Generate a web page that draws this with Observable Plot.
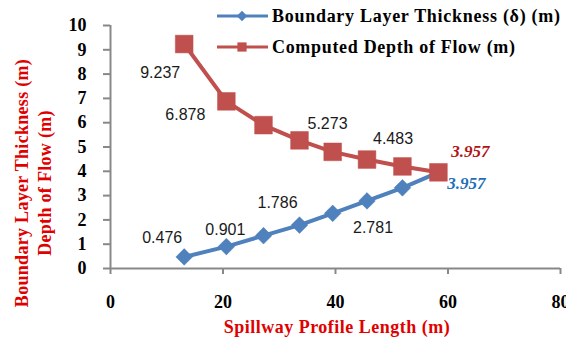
<!DOCTYPE html>
<html>
<head>
<meta charset="utf-8">
<script src="https://cdn.jsdelivr.net/npm/d3@7"></script>
<script src="https://cdn.jsdelivr.net/npm/@observablehq/plot@0.6"></script>
<style>
  html, body { margin: 0; padding: 0; overflow: hidden; background: #fff; }
  #chart { width: 566px; height: 340px; overflow: hidden; }
  #chart svg { display: block; }
</style>
</head>
<body>
<div id="chart"></div>
<script>
// ---- data ----
const lengths = [13.1, 20.6, 27.2, 33.6, 39.5, 45.6, 51.9, 58.3];
const boundaryThickness = [0.476, 0.901, 1.35, 1.786, 2.27, 2.781, 3.32, 3.957];
const flowDepth = [9.237, 6.878, 5.9, 5.273, 4.8, 4.483, 4.2, 3.957];
const labelledPoints = [0, 1, 3, 5, 7];
const xTicks = [0, 20, 40, 60, 80];
const yTicks = [0, 1, 2, 3, 4, 5, 6, 7, 8, 9, 10];
const seriesNames = ["Boundary Layer Thickness (\u03b4) (m)", "Computed Depth of Flow (m)"];
const xTitle = "Spillway Profile Length (m)";
const yTitleLines = ["Boundary Layer Thickness (m)", "Depth of Flow (m)"];

const blueRows = lengths.map((x, i) => ({x, y: boundaryThickness[i], i}));
const redRows = lengths.map((x, i) => ({x, y: flowDepth[i], i}));

const BLUE = "#4f81bd", RED = "#c0504d", AXIS = "#888888";
const SERIF = "'Liberation Serif', 'Times New Roman', serif";
const SANS = "'Liberation Sans', Arial, sans-serif";

const fmt = v => v.toFixed(3);
// offsets for each data label [dx, dy], by position in labelledPoints
const redOff = [[-24, 29], [-41, 14], [28, -16], [26, -21]];
const blueOff = [[-22, -19], [-1, -17], [-22, -22], [6, 27]];

const labelMarks = [];
labelledPoints.forEach((idx, k) => {
  const last = k === labelledPoints.length - 1;
  if (!last) {
    labelMarks.push(Plot.text(redRows.filter(d => d.i === idx), {
      x: "x", y: "y", text: d => fmt(d.y), dx: redOff[k][0], dy: redOff[k][1],
      fontFamily: SANS, fontSize: 16, fill: "#1a1a1a"
    }));
    labelMarks.push(Plot.text(blueRows.filter(d => d.i === idx), {
      x: "x", y: "y", text: d => fmt(d.y), dx: blueOff[k][0], dy: blueOff[k][1],
      fontFamily: SANS, fontSize: 16, fill: "#1a1a1a"
    }));
  } else {
    labelMarks.push(Plot.text(redRows.filter(d => d.i === idx), {
      x: "x", y: "y", text: d => fmt(d.y), dx: 32, dy: -21,
      fontFamily: SERIF, fontSize: 17, fontWeight: "bold", fontStyle: "italic", fill: "#b01515"
    }));
    labelMarks.push(Plot.text(blueRows.filter(d => d.i === idx), {
      x: "x", y: "y", text: d => fmt(d.y), dx: 28, dy: 11,
      fontFamily: SERIF, fontSize: 17, fontWeight: "bold", fontStyle: "italic", fill: "#1f6fb8"
    }));
  }
});

const chart = Plot.plot({
  width: 566,
  height: 340,
  marginLeft: 110,
  marginRight: 6,
  marginTop: 25,
  marginBottom: 72,
  x: {type: "linear", domain: [0, 80]},
  y: {type: "linear", domain: [0, 10]},
  marks: [
    Plot.axisX({ticks: xTicks, tickSize: 6, tickPadding: 21, label: null, stroke: AXIS,
      fontFamily: SERIF, fontSize: 18, fontWeight: "bold", fill: "#000"}),
    Plot.axisY({ticks: yTicks, tickSize: 7, tickPadding: 17, label: null, stroke: AXIS,
      fontFamily: SERIF, fontSize: 18, fontWeight: "bold", fill: "#000"}),
    Plot.ruleX([0], {stroke: AXIS, strokeWidth: 2}),
    Plot.ruleY([0], {stroke: AXIS, strokeWidth: 2}),
    Plot.line(blueRows, {x: "x", y: "y", stroke: BLUE, strokeWidth: 4}),
    Plot.dot(blueRows, {x: "x", y: "y", symbol: "diamond2", r: 7.5, fill: BLUE, stroke: BLUE, strokeWidth: 0.5}),
    Plot.line(redRows, {x: "x", y: "y", stroke: RED, strokeWidth: 4}),
    Plot.dot(redRows, {x: "x", y: "y", symbol: "square", r: 10, fill: RED, stroke: RED, strokeWidth: 0.5}),
    ...labelMarks
  ]
});

document.getElementById("chart").appendChild(chart);
// thicken the axis tick strokes
d3.select(chart).selectAll("g[aria-label$='tick']").attr("stroke-width", 2);

// titles and legend drawn into the same SVG
const svg = d3.select(chart);
const yt = svg.append("g").attr("font-family", SERIF).attr("font-weight", "bold")
  .attr("font-size", 18).attr("fill", "#e00000").attr("text-anchor", "middle");
[22, 45].forEach((cx, i) => {
  yt.append("text").attr("transform", `translate(${cx},183) rotate(-90)`)
    .attr("dominant-baseline", "central").attr("letter-spacing", 0.3).text(yTitleLines[i]);
});
svg.append("text").attr("x", 337).attr("y", 333).attr("text-anchor", "middle")
  .attr("font-family", SERIF).attr("font-weight", "bold").attr("font-size", 18)
  .attr("letter-spacing", 0.5).attr("fill", "#e00000").text(xTitle);

const legendWidths = [288, 243];
const leg = svg.append("g").attr("text-anchor", "start");
[[16, BLUE, "diamond"], [47, RED, "square"]].forEach(([ly, col, sym], i) => {
  leg.append("line").attr("x1", 217).attr("x2", 268).attr("y1", ly).attr("y2", ly)
    .attr("stroke", col).attr("stroke-width", 3);
  const s = sym === "diamond" ? d3.symbol(d3.symbolDiamond2, 70) : d3.symbol(d3.symbolSquare, 85);
  leg.append("path").attr("d", s()).attr("transform", `translate(242,${ly})`).attr("fill", col);
  leg.append("text").attr("x", 272).attr("y", ly).attr("dominant-baseline", "central")
    .attr("text-anchor", "start")
    .attr("font-family", SERIF).attr("font-weight", "bold").attr("font-size", 18)
    .attr("textLength", legendWidths[i]).attr("lengthAdjust", "spacing")
    .attr("fill", "#000").text(seriesNames[i]);
});
</script>
</body>
</html>
